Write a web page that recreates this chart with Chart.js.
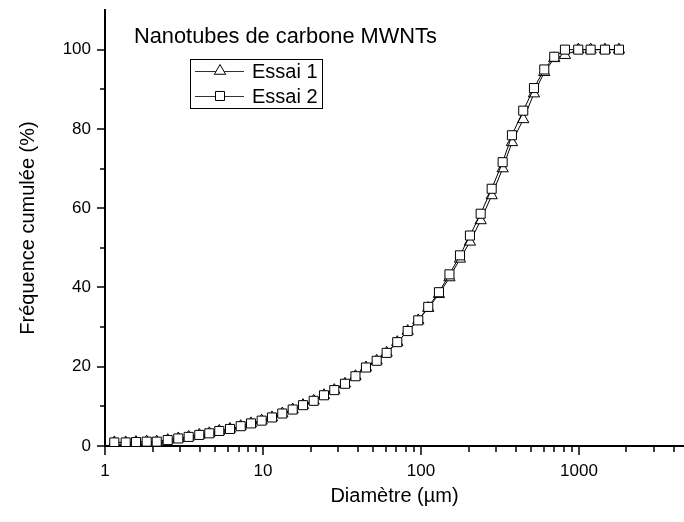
<!DOCTYPE html>
<html>
<head>
<meta charset="utf-8">
<script src="https://cdn.jsdelivr.net/npm/chart.js@4.4.1/dist/chart.umd.min.js"></script>
<style>
    body { margin: 0; background: #fff; }
    #wrap { width: 684px; height: 522px; }
</style>
</head>
<body>
<div id="wrap"><canvas id="chartGranulo" width="684" height="522"></canvas></div>
<script>
// diamètres (µm)
const diametres = [1.145, 1.352, 1.571, 1.836, 2.125, 2.494, 2.910, 3.386, 3.952, 4.573,
    5.290, 6.183, 7.226, 8.398, 9.81, 11.40, 13.25, 15.42, 17.92, 20.94,
    24.33, 28.27, 33.04, 38.49, 44.86, 52.44, 60.66, 70.79, 82.39, 96.14,
    111.2, 130.0, 151.5, 176.6, 204.2, 238.7, 280.3, 328.9, 376.6, 444.1,
    519.1, 603.3, 697.9, 815.5, 990, 1186, 1461, 1792];

// fréquence cumulée (%)
const essai1 = [0.9, 0.9, 1.0, 1.1, 1.1, 1.5, 1.9, 2.3, 2.8, 3.2,
    3.8, 4.3, 5.0, 5.7, 6.4, 7.2, 8.2, 9.2, 10.3, 11.4,
    12.8, 14.1, 15.7, 17.6, 19.8, 21.5, 23.5, 26.2, 29.0, 31.7,
    34.8, 38.3, 42.5, 47.2, 51.5, 56.9, 63.2, 70.0, 76.6, 82.4,
    88.9, 94.3, 97.8, 98.6, 100, 100, 100, 100];

const essai2 = [0.9, 0.9, 1.0, 1.1, 1.1, 1.5, 1.9, 2.3, 2.8, 3.2,
    3.8, 4.3, 5.0, 5.7, 6.4, 7.2, 8.2, 9.2, 10.3, 11.4,
    12.8, 14.1, 15.7, 17.6, 19.8, 21.5, 23.5, 26.2, 29.0, 31.7,
    35.1, 38.8, 43.3, 48.1, 53.1, 58.6, 64.9, 71.6, 78.4, 84.6,
    90.3, 95.0, 98.2, 100, 100, 100, 100, 100];

const xTickLabels = [1, 10, 100, 1000];
const yTickLabels = [0, 20, 40, 60, 80, 100];
const nomsSeries = ["Essai 1", "Essai 2"];
const titreGraphique = "Nanotubes de carbone MWNTs";

const police = "'Liberation Sans', Arial, Helvetica, sans-serif";
Chart.defaults.font.family = police;
Chart.defaults.color = "#000";

// petites graduations, légende et titre dessinés à la main
const decorPlugin = {
    id: "decor",
    afterDraw(chart) {
        const { ctx, chartArea } = chart;
        const sx = chart.scales.x;
        const sy = chart.scales.y;
        ctx.save();
        ctx.strokeStyle = "#000";
        ctx.lineWidth = 1.5;

        // graduations axe x (log)
        for (let d = 1; d <= 1000; d *= 10) {
            for (let k = 1; k <= 9; k++) {
                const v = d * k;
                if (v > sx.max) break;
                const px = Math.round(sx.getPixelForValue(v));
                const len = k === 1 ? 9 : 6;
                ctx.beginPath();
                ctx.moveTo(px, chartArea.bottom);
                ctx.lineTo(px, chartArea.bottom + len);
                ctx.stroke();
            }
        }
        // graduations axe y
        for (let v = 0; v <= 100; v += 10) {
            const py = Math.round(sy.getPixelForValue(v));
            const len = v % 20 === 0 ? 8 : 5;
            ctx.beginPath();
            ctx.moveTo(chartArea.left, py);
            ctx.lineTo(chartArea.left - len, py);
            ctx.stroke();
        }

        // titre
        ctx.fillStyle = "#000";
        ctx.font = "21.8px " + police;
        ctx.textBaseline = "alphabetic";
        ctx.fillText(titreGraphique, 134, 43);

        // légende
        ctx.lineWidth = 1;
        ctx.strokeRect(190.5, 59.5, 132, 49);
        const styles = ["triangle", "rect"];
        const rayons = [6.5, 6.4];
        const lignesY = [71, 96];
        ctx.font = "20px " + police;
        nomsSeries.forEach((nom, i) => {
            const yy = lignesY[i];
            ctx.strokeStyle = "#333";
            ctx.beginPath();
            ctx.moveTo(195, yy + 0.5);
            ctx.lineTo(244, yy + 0.5);
            ctx.stroke();
            ctx.strokeStyle = "#000";
            ctx.fillStyle = "#fff";
            Chart.helpers.drawPoint(ctx, { pointStyle: styles[i], radius: rayons[i], borderWidth: 1, rotation: 0 }, 220, yy);
            ctx.fillStyle = "#000";
            ctx.fillText(nom, 252, yy + 7);
        });
        ctx.restore();
    }
};

const ctx = document.getElementById("chartGranulo").getContext("2d");

new Chart(ctx, {
    type: "line",
    data: {
        datasets: [
            {
                label: nomsSeries[0],
                data: diametres.map((d, i) => ({ x: d, y: essai1[i] })),
                borderColor: "#000",
                borderWidth: 1,
                pointStyle: "triangle",
                pointRadius: 6.5,
                pointBackgroundColor: "#fff",
                pointBorderColor: "#000",
                pointBorderWidth: 1,
                tension: 0,
                order: 1
            },
            {
                label: nomsSeries[1],
                data: diametres.map((d, i) => ({ x: d, y: essai2[i] })),
                borderColor: "#000",
                borderWidth: 1,
                pointStyle: "rect",
                pointRadius: 6.4,
                pointBackgroundColor: "#fff",
                pointBorderColor: "#000",
                pointBorderWidth: 1,
                tension: 0,
                order: 0
            }
        ]
    },
    options: {
        responsive: false,
        animation: false,
        devicePixelRatio: 1,
        layout: { autoPadding: false, padding: { top: 10, right: 0, left: 0, bottom: 0 } },
        plugins: {
            legend: { display: false },
            tooltip: { enabled: false }
        },
        scales: {
            x: {
                type: "logarithmic",
                min: 1,
                max: 4624,
                afterFit(scale) {
                    scale.height = 76;
                    scale.paddingLeft = 0;
                    scale.paddingRight = 0;
                },
                border: { display: true, color: "#000", width: 2 },
                grid: { display: false },
                ticks: {
                    autoSkip: false,
                    maxRotation: 0,
                    padding: 7,
                    font: { size: 17 },
                    callback: v => xTickLabels.includes(v) ? String(v) : ""
                },
                title: {
                    display: true,
                    text: "Diamètre (µm)",
                    font: { size: 20 },
                    padding: { top: 0, bottom: 14 }
                }
            },
            y: {
                min: 0,
                max: 110,
                afterFit(scale) {
                    scale.width = 105;
                    scale.paddingTop = 0;
                    scale.paddingBottom = 0;
                },
                border: { display: true, color: "#000", width: 2 },
                grid: { display: false },
                ticks: {
                    stepSize: 10,
                    padding: 6,
                    font: { size: 17 },
                    callback: v => yTickLabels.includes(v) ? String(v) : ""
                },
                title: {
                    display: true,
                    text: "Fréquence cumulée (%)",
                    font: { size: 20 },
                    padding: { top: 16, bottom: 0 }
                }
            }
        }
    },
    plugins: [decorPlugin]
});
</script>
</body>
</html>
